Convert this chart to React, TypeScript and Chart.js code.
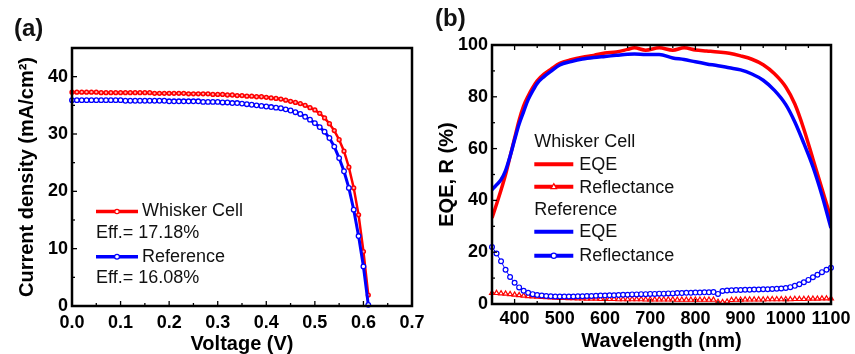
import React, { useEffect, useRef } from "react";
import { Chart, registerables } from "chart.js";

Chart.register(...registerables);

const FONT = "Arial, 'Liberation Sans', Helvetica, sans-serif";
const RED = "#ff0000";
const BLUE = "#0000ff";

// ---------- Panel (a): J-V curves ----------
const voltage = [
  0.0, 0.01, 0.02, 0.03, 0.04, 0.05, 0.06, 0.07, 0.08, 0.09,
  0.1, 0.11, 0.12, 0.13, 0.14, 0.15, 0.16, 0.17, 0.18, 0.19,
  0.2, 0.21, 0.22, 0.23, 0.24, 0.25, 0.26, 0.27, 0.28, 0.29,
  0.3, 0.31, 0.32, 0.33, 0.34, 0.35, 0.36, 0.37, 0.38, 0.39,
  0.4, 0.41, 0.42, 0.43, 0.44, 0.45, 0.46, 0.47, 0.48, 0.49,
  0.5, 0.51, 0.52, 0.53, 0.54, 0.55, 0.56, 0.57, 0.58, 0.59,
  0.6, 0.61,
];
const jWhisker = [
  37.3, 37.3, 37.3, 37.3, 37.3, 37.3, 37.2, 37.2, 37.2, 37.2,
  37.2, 37.2, 37.2, 37.2, 37.2, 37.2, 37.2, 37.1, 37.1, 37.1,
  37.1, 37.1, 37.1, 37.1, 37.0, 37.0, 37.0, 37.0, 37.0, 36.9,
  36.9, 36.9, 36.8, 36.8, 36.7, 36.7, 36.6, 36.6, 36.5, 36.5,
  36.4, 36.3, 36.2, 36.1, 35.9, 35.7, 35.5, 35.3, 35.0, 34.6,
  34.2, 33.6, 32.8, 31.8, 30.6, 29.0, 27.0, 24.2, 20.6, 15.9,
  9.5, 1.9,
];
const jReference = [
  35.9, 35.9, 35.9, 35.9, 35.9, 35.9, 35.9, 35.9, 35.9, 35.9,
  35.9, 35.8, 35.8, 35.8, 35.8, 35.8, 35.8, 35.8, 35.8, 35.8,
  35.7, 35.7, 35.7, 35.7, 35.7, 35.7, 35.7, 35.6, 35.6, 35.6,
  35.6, 35.5, 35.5, 35.4, 35.4, 35.3, 35.2, 35.1, 35.0, 34.9,
  34.8, 34.7, 34.6, 34.5, 34.3, 34.1, 33.8, 33.5, 33.0, 32.5,
  31.9, 31.2, 30.4, 29.3, 27.8, 25.8, 23.5, 20.6, 16.8, 12.2,
  6.9, 0.2,
];
const seriesNames = ["Whisker Cell", "Reference"];
const efficiencies = ["17.18%", "16.08%"];

// ---------- Panel (b): EQE and reflectance ----------
const eqeWavelength = [
  350, 360, 370, 380, 390, 400, 410, 420, 430, 440, 450, 465, 480,
  500, 525, 550, 575, 600, 625, 650, 665, 690, 720, 750, 775,
  800, 825, 850, 875, 900, 925, 950, 975, 1000, 1020, 1040, 1060, 1080, 1100,
];
const eqeWhisker = [
  33.2, 38.5, 44, 50, 57, 64, 71, 76.5, 80.3, 83.5, 86.2, 88.8, 90.6,
  92.9, 94.3, 95.3, 96.0, 96.9, 97.3, 98.3, 98.9, 98.0, 98.9, 98.0, 98.9,
  98.1, 97.7, 97.3, 96.8, 95.8, 94.5, 92.4, 88.9, 83.8, 77.2, 67.5, 56, 44.5, 33,
];
const eqeReference = [
  44.1, 46, 48, 51.5, 57, 63.4, 69.5, 74.3, 78.9, 82.3, 85.2, 87.8, 89.8,
  92.3, 93.6, 94.6, 95.2, 95.6, 96.0, 96.4, 96.5, 96.3, 96.3, 95.0, 94.4,
  93.5, 92.7, 92.0, 91.2, 90.4, 88.8, 86.4, 82.5, 77, 70.3, 62, 53, 42, 29.3,
];
const reflWavelength = [
  350, 360, 370, 380, 390, 400, 410, 420, 430, 440,
  450, 460, 470, 480, 490, 500, 510, 520, 530, 540,
  550, 560, 570, 580, 590, 600, 610, 620, 630, 640,
  650, 660, 670, 680, 690, 700, 710, 720, 730, 740,
  750, 760, 770, 780, 790, 800, 810, 820, 830, 840,
  850, 860, 870, 880, 890, 900, 910, 920, 930, 940,
  950, 960, 970, 980, 990, 1000, 1010, 1020, 1030, 1040,
  1050, 1060, 1070, 1080, 1090, 1100,
];
const reflWhisker = [
  4.2, 4.2, 4.1, 4.0, 3.8, 3.6, 3.4, 3.2, 3.0, 2.9,
  2.8, 2.7, 2.6, 2.5, 2.4, 2.3, 2.3, 2.2, 2.2, 2.1,
  2.1, 2.0, 2.0, 2.0, 1.9, 1.9, 1.9, 1.9, 1.8, 1.8,
  1.8, 1.8, 1.8, 1.8, 1.7, 1.7, 1.7, 1.7, 1.7, 1.7,
  1.7, 1.6, 1.6, 1.6, 1.6, 1.6, 1.6, 1.6, 1.6, 1.6,
  0.8, 0.7, 0.9, 1.5, 1.6, 1.6, 1.7, 1.7, 1.7, 1.7,
  1.7, 1.8, 1.8, 1.8, 1.8, 1.8, 1.8, 1.9, 1.9, 1.9,
  2.0, 2.0, 2.0, 2.1, 2.1, 2.1,
];
const reflReference = [
  22.0, 19.5, 16.5, 13.2, 10.4, 8.2, 6.4, 5.1, 4.3, 3.8,
  3.5, 3.3, 3.1, 3.0, 2.9, 2.9, 2.9, 2.9, 2.9, 3.0,
  3.0, 3.1, 3.1, 3.2, 3.3, 3.3, 3.4, 3.4, 3.5, 3.6,
  3.6, 3.7, 3.7, 3.8, 3.8, 3.9, 3.9, 4.0, 4.0, 4.1,
  4.1, 4.2, 4.2, 4.3, 4.3, 4.4, 4.4, 4.5, 4.5, 4.6,
  3.9, 5.0, 5.2, 5.3, 5.4, 5.4, 5.5, 5.5, 5.6, 5.6,
  5.7, 5.7, 5.8, 5.9, 6.0, 6.2, 6.5, 7.0, 7.6, 8.4,
  9.3, 10.3, 11.3, 12.3, 13.2, 14.0,
];
const legendB = ["EQE", "Reflectance"];

// ---------- helpers ----------
type Item =
  | { kind: "text"; x: number; y: number; text: string; font?: string; baseline?: CanvasTextBaseline }
  | { kind: "line"; x1: number; x2: number; y: number; color: string; width: number; marker?: "circle" | "triangle"; mr?: number };

function drawMarker(ctx: CanvasRenderingContext2D, kind: string, x: number, y: number, r: number, color: string) {
  ctx.save();
  ctx.fillStyle = "#ffffff";
  ctx.strokeStyle = color;
  ctx.lineWidth = 1.2;
  ctx.beginPath();
  if (kind === "circle") {
    ctx.arc(x, y, r, 0, Math.PI * 2);
  } else {
    ctx.moveTo(x, y - r * 1.1);
    ctx.lineTo(x + r, y + r * 0.7);
    ctx.lineTo(x - r, y + r * 0.7);
    ctx.closePath();
  }
  ctx.fill();
  ctx.stroke();
  ctx.restore();
}

function overlayPlugin(items: Item[]) {
  return {
    id: "overlay",
    afterDraw(chart: any) {
      const ctx: CanvasRenderingContext2D = chart.ctx;
      ctx.save();
      for (const it of items) {
        if (it.kind === "text") {
          ctx.font = it.font || `18px ${FONT}`;
          ctx.fillStyle = "#111";
          ctx.textAlign = "left";
          ctx.textBaseline = it.baseline || "middle";
          ctx.fillText(it.text, it.x, it.y);
        } else {
          ctx.strokeStyle = it.color;
          ctx.lineWidth = it.width;
          ctx.lineCap = "butt";
          ctx.beginPath();
          ctx.moveTo(it.x1, it.y);
          ctx.lineTo(it.x2, it.y);
          ctx.stroke();
          if (it.marker) drawMarker(ctx, it.marker, (it.x1 + it.x2) / 2, it.y, it.mr || 2.5, it.color);
        }
      }
      ctx.restore();
    },
  };
}

function framePlugin(mirrorTop: boolean) {
  return {
    id: "frame",
    afterDraw(chart: any) {
      const ctx: CanvasRenderingContext2D = chart.ctx;
      const a = chart.chartArea;
      ctx.save();
      ctx.strokeStyle = "#000";
      ctx.lineWidth = 1.3;
      for (const id of ["x", "y"]) {
        const s = chart.scales[id];
        for (const t of s.ticks) {
          const major = t.label !== "" && t.label != null;
          const len = major ? 5 : 3;
          const p = s.getPixelForValue(t.value);
          ctx.beginPath();
          if (s.isHorizontal()) {
            ctx.moveTo(p, a.bottom);
            ctx.lineTo(p, a.bottom - len);
            if (mirrorTop) {
              ctx.moveTo(p, a.top);
              ctx.lineTo(p, a.top + len);
            }
          } else {
            ctx.moveTo(a.left, p);
            ctx.lineTo(a.left + len, p);
          }
          ctx.stroke();
        }
      }
      ctx.lineWidth = 2.5;
      ctx.strokeRect(a.left, a.top, a.right - a.left, a.bottom - a.top);
      ctx.restore();
    },
  };
}

const tickFont = { family: FONT, size: 18, weight: "bold" as const };
const titleFont = { family: FONT, size: 20, weight: "bold" as const, lineHeight: 1 };

function xAxis(min: number, max: number, step: number, label: (v: number) => string, title: string, height: number, tickPad: number, titlePad: number) {
  return {
    type: "linear" as const,
    min,
    max,
    grid: { display: false, drawTicks: false },
    border: { display: false },
    ticks: { stepSize: step, autoSkip: false, maxRotation: 0, padding: tickPad, color: "#000", font: tickFont, callback: (v: any) => label(Number(v)) },
    title: { display: true, text: title, color: "#000", font: titleFont, padding: { top: 0, bottom: titlePad } },
    afterFit: (s: any) => {
      s.height = height;
      s.paddingLeft = 0;
      s.paddingRight = 0;
    },
  };
}

function yAxis(min: number, max: number, step: number, label: (v: number) => string, title: string, width: number, tickPad: number, titlePad: number) {
  return {
    type: "linear" as const,
    min,
    max,
    grid: { display: false, drawTicks: false },
    border: { display: false },
    ticks: { stepSize: step, autoSkip: false, padding: tickPad, color: "#000", font: tickFont, callback: (v: any) => label(Number(v)) },
    title: { display: true, text: title, color: "#000", font: titleFont, padding: { top: titlePad, bottom: 0 } },
    afterFit: (s: any) => {
      s.width = width;
      s.paddingTop = 0;
      s.paddingBottom = 0;
    },
  };
}

function PanelA() {
  const ref = useRef<HTMLCanvasElement>(null);
  useEffect(() => {
    const items: Item[] = [
      { kind: "text", x: 14, y: 35.5, text: "(a)", font: `bold 24px ${FONT}`, baseline: "alphabetic" },
      { kind: "line", x1: 96, x2: 138, y: 211.5, color: RED, width: 3.5, marker: "circle", mr: 2.2 },
      { kind: "text", x: 142, y: 211.5, text: seriesNames[0] },
      { kind: "text", x: 96, y: 233.5, text: "Eff.= " + efficiencies[0] },
      { kind: "line", x1: 96, x2: 138, y: 256.7, color: BLUE, width: 3.5, marker: "circle", mr: 2.4 },
      { kind: "text", x: 142, y: 256.7, text: seriesNames[1] },
      { kind: "text", x: 96, y: 278.5, text: "Eff.= " + efficiencies[1] },
    ];
    const chart = new Chart(ref.current!, {
      type: "line",
      data: {
        datasets: [
          {
            label: seriesNames[1],
            data: voltage.map((v, i) => ({ x: v, y: jReference[i] })),
            borderColor: BLUE,
            borderWidth: 3,
            pointRadius: 2.3,
            pointBorderWidth: 1.3,
            pointBorderColor: BLUE,
            pointBackgroundColor: "#ffffff",
            tension: 0,
            clip: false as any,
          },
          {
            label: seriesNames[0],
            data: voltage.map((v, i) => ({ x: v, y: jWhisker[i] })),
            borderColor: RED,
            borderWidth: 2.5,
            pointRadius: 1.9,
            pointBorderWidth: 1.5,
            pointBorderColor: RED,
            pointBackgroundColor: "#ffb0b0",
            tension: 0,
            clip: false as any,
          },
        ],
      },
      options: {
        animation: false,
        responsive: false,
        events: [],
        layout: { padding: { left: 11, right: 18, top: 48, bottom: 0 } },
        plugins: { legend: { display: false }, tooltip: { enabled: false } },
        scales: {
          x: xAxis(0, 0.7, 0.05, (v) => (Math.round(v * 100) % 10 === 0 ? v.toFixed(1) : ""), "Voltage (V)", 48, 6, 0),
          y: yAxis(0, 45, 5, (v) => (Math.round(v) % 10 === 0 ? String(Math.round(v)) : ""), "Current density (mA/cm²)", 61, 4, 6),
        },
      },
      plugins: [framePlugin(false), overlayPlugin(items)],
    } as any);
    return () => chart.destroy();
  }, []);
  return <canvas ref={ref} width={430} height={354} style={{ position: "absolute", left: 0, top: 0, width: 430, height: 354 }} />;
}

function PanelB() {
  const ref = useRef<HTMLCanvasElement>(null);
  useEffect(() => {
    const items: Item[] = [
      { kind: "text", x: 5, y: 26, text: "(b)", font: `bold 24px ${FONT}`, baseline: "alphabetic" },
      { kind: "text", x: 104.3, y: 142.5, text: seriesNames[0] },
      { kind: "line", x1: 104.3, x2: 143.3, y: 164.3, color: RED, width: 4 },
      { kind: "text", x: 149.3, y: 165.3, text: legendB[0] },
      { kind: "line", x1: 104.3, x2: 143.3, y: 186.7, color: RED, width: 4, marker: "triangle", mr: 2.8 },
      { kind: "text", x: 149.3, y: 187.8, text: legendB[1] },
      { kind: "text", x: 104.3, y: 210.5, text: seriesNames[1] },
      { kind: "line", x1: 104.3, x2: 143.3, y: 231.7, color: BLUE, width: 4 },
      { kind: "text", x: 149.3, y: 232.5, text: legendB[0] },
      { kind: "line", x1: 104.3, x2: 143.3, y: 255.7, color: BLUE, width: 4, marker: "circle", mr: 2.6 },
      { kind: "text", x: 149.3, y: 256.2, text: legendB[1] },
    ];
    const chart = new Chart(ref.current!, {
      type: "line",
      data: {
        datasets: [
          {
            label: "Reference EQE",
            data: eqeWavelength.map((w, i) => ({ x: w, y: eqeReference[i] })),
            borderColor: BLUE,
            borderWidth: 3.5,
            pointRadius: 0,
            cubicInterpolationMode: "monotone",
          },
          {
            label: "Reference R",
            data: reflWavelength.map((w, i) => ({ x: w, y: reflReference[i] })),
            borderColor: BLUE,
            borderWidth: 1,
            pointRadius: 2.4,
            pointBorderWidth: 1.2,
            pointBorderColor: BLUE,
            pointBackgroundColor: "#ffffff",
            tension: 0,
            clip: false as any,
          },
          {
            label: "Whisker EQE",
            data: eqeWavelength.map((w, i) => ({ x: w, y: eqeWhisker[i] })),
            borderColor: RED,
            borderWidth: 3.5,
            pointRadius: 0,
            cubicInterpolationMode: "monotone",
          },
          {
            label: "Whisker R",
            data: reflWavelength.map((w, i) => ({ x: w, y: reflWhisker[i] })),
            borderColor: RED,
            borderWidth: 1,
            pointStyle: "triangle",
            pointRadius: 2.8,
            pointBorderWidth: 1.2,
            pointBorderColor: RED,
            pointBackgroundColor: "#ffffff",
            tension: 0,
            clip: false as any,
          },
        ],
      },
      options: {
        animation: false,
        responsive: false,
        events: [],
        layout: { padding: { left: 4, right: 24, top: 45, bottom: 0 } },
        plugins: { legend: { display: false }, tooltip: { enabled: false } },
        scales: {
          x: xAxis(350, 1100, 50, (v) => (Math.round(v) % 100 === 0 ? String(Math.round(v)) : ""), "Wavelength (nm)", 50, 4, 2.5),
          y: yAxis(0, 100, 10, (v) => (Math.round(v) % 20 === 0 ? String(Math.round(v)) : ""), "EQE, R (%)", 58, 4, 3.5),
        },
      },
      plugins: [framePlugin(true), overlayPlugin(items)],
    } as any);
    return () => chart.destroy();
  }, []);
  return <canvas ref={ref} width={425} height={354} style={{ position: "absolute", left: 430, top: 0, width: 425, height: 354 }} />;
}

export default function App() {
  return (
    <div style={{ position: "absolute", left: 0, top: 0, width: 855, height: 354, background: "#ffffff", overflow: "hidden" }}>
      <PanelA />
      <PanelB />
    </div>
  );
}
